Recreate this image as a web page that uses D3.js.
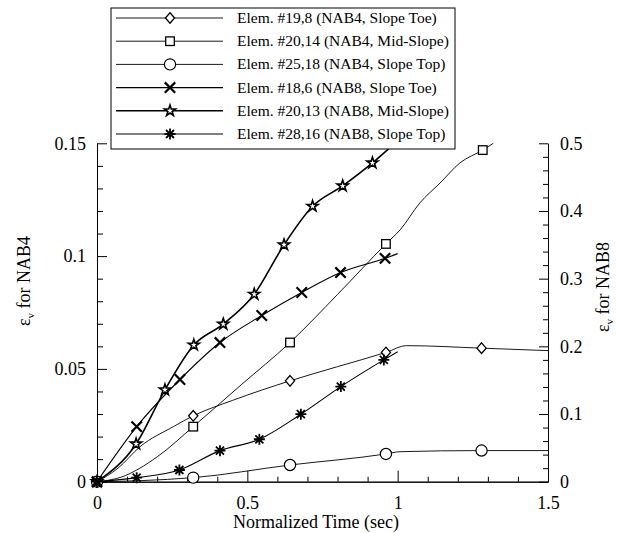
<!DOCTYPE html>
<html>
<head>
<meta charset="utf-8">
<script src="https://cdn.jsdelivr.net/npm/d3@7"></script>
<style>
body { margin: 0; background: #fff; }
text { font-family: "Liberation Serif", "DejaVu Serif", "Times New Roman", Times, serif !important; fill: #000; }
.axis path, .axis line { stroke: #000; stroke-width: 1; }
.axis text { font-size: 18px; }
</style>
</head>
<body>
<script>
var width = 617, height = 533;

// normalized time / strain, flags = where a marker sits
var toe4T = [0, 0.07, 0.143, 0.254, 0.32, 0.45, 0.642, 0.8, 0.961, 1.03, 1.279, 1.5];
var toe4V = [0, 0.006, 0.0155, 0.0244, 0.0292, 0.036, 0.0447, 0.051, 0.0573, 0.0603, 0.0592, 0.0581];
var toe4M = [1, 0, 0, 0, 1, 0, 1, 0, 1, 0, 1, 0];

var mid4T = [0, 0.08, 0.2, 0.32, 0.48, 0.642, 0.8, 0.961, 1.008, 1.074, 1.141, 1.207, 1.283, 1.318];
var mid4V = [0, 0.002, 0.011, 0.0244, 0.043, 0.0617, 0.083, 0.1054, 0.1116, 0.1236, 0.1324, 0.1413, 0.147, 0.150];
var mid4M = [1, 0, 0, 1, 0, 1, 0, 1, 0, 0, 0, 0, 1, 0];

var top4T = [0, 0.15, 0.32, 0.642, 0.961, 1.008, 1.279, 1.5];
var top4V = [0, 0.0005, 0.0018, 0.0074, 0.0123, 0.0133, 0.0138, 0.0138];
var top4M = [1, 0, 1, 1, 1, 0, 1, 0];

var toe8T = [0, 0.132, 0.276, 0.409, 0.548, 0.681, 0.81, 0.958, 1.0];
var toe8V = [0, 0.0814, 0.151, 0.2056, 0.2456, 0.2796, 0.309, 0.330, 0.337];
var toe8M = [1, 1, 1, 1, 1, 1, 1, 1, 0];

var mid8T = [0, 0.13, 0.226, 0.322, 0.42, 0.523, 0.622, 0.717, 0.817, 0.916, 0.99];
var mid8V = [0, 0.0558, 0.1357, 0.202, 0.2328, 0.277, 0.350, 0.407, 0.437, 0.471, 0.5];
var mid8M = [1, 1, 1, 1, 1, 1, 1, 1, 1, 1, 0];

var top8T = [0, 0.132, 0.274, 0.409, 0.540, 0.678, 0.811, 0.954, 1.0];
var top8V = [0, 0.006, 0.0173, 0.0459, 0.0627, 0.0997, 0.1405, 0.180, 0.192];
var top8M = [1, 1, 1, 1, 1, 1, 1, 1, 0];

var legendNames = ["Elem. #19,8 (NAB4, Slope Toe)", "Elem. #20,14 (NAB4, Mid-Slope)",
  "Elem. #25,18 (NAB4, Slope Top)", "Elem. #18,6 (NAB8, Slope Toe)",
  "Elem. #20,13 (NAB8, Mid-Slope)", "Elem. #28,16 (NAB8, Slope Top)"];

var xTicks = [0, 0.5, 1, 1.5];
var xMinor = [0.1, 0.2, 0.3, 0.4, 0.6, 0.7, 0.8, 0.9, 1.1, 1.2, 1.3, 1.4];
var leftTicks = [0, 0.05, 0.1, 0.15];
var leftMinor = [0.01, 0.02, 0.03, 0.04, 0.06, 0.07, 0.08, 0.09, 0.11, 0.12, 0.13, 0.14];
var rightTicks = [0, 0.1, 0.2, 0.3, 0.4, 0.5];
var rightMinor = [0.02, 0.04, 0.06, 0.08, 0.12, 0.14, 0.16, 0.18, 0.22, 0.24, 0.26, 0.28,
  0.32, 0.34, 0.36, 0.38, 0.42, 0.44, 0.46, 0.48];

var series = [
  {t: toe4T, v: toe4V, m: toe4M, side: "L", mark: "diamond", w: 0.9},
  {t: mid4T, v: mid4V, m: mid4M, side: "L", mark: "square", w: 0.9},
  {t: top4T, v: top4V, m: top4M, side: "L", mark: "circle", w: 0.9},
  {t: toe8T, v: toe8V, m: toe8M, side: "R", mark: "cross", w: 1.1},
  {t: mid8T, v: mid8V, m: mid8M, side: "R", mark: "star", w: 1.6},
  {t: top8T, v: top8V, m: top8M, side: "R", mark: "asterisk", w: 1.1}
];

var x = d3.scaleLinear().domain([0, 1.5]).range([97, 548]);
var yL = d3.scaleLinear().domain([0, 0.15]).range([481.7, 143.3]);
var yR = d3.scaleLinear().domain([0, 0.5]).range([481.7, 143.3]);

var svg = d3.select("body").append("svg").attr("width", width).attr("height", height);

// axes, ticks pointing inward
svg.append("g").attr("class", "axis")
    .attr("transform", "translate(0,481.7)")
    .call(d3.axisBottom(x).tickValues(xTicks).tickFormat(String).tickSizeInner(-11).tickSizeOuter(0).tickPadding(14.5));
svg.append("g").attr("class", "axis")
    .attr("transform", "translate(0,481.7)")
    .call(d3.axisBottom(x).tickValues(xMinor).tickFormat("").tickSizeInner(-5).tickSizeOuter(0));

svg.append("g").attr("class", "axis")
    .attr("transform", "translate(97,0)")
    .call(d3.axisLeft(yL).tickValues(leftTicks).tickFormat(String).tickSizeInner(-10).tickSizeOuter(0).tickPadding(11));
svg.append("g").attr("class", "axis")
    .attr("transform", "translate(97,0)")
    .call(d3.axisLeft(yL).tickValues(leftMinor).tickFormat("").tickSizeInner(-6).tickSizeOuter(0));

svg.append("g").attr("class", "axis")
    .attr("transform", "translate(548,0)")
    .call(d3.axisRight(yR).tickValues(rightTicks).tickFormat(String).tickSizeInner(-9).tickSizeOuter(0).tickPadding(12));
svg.append("g").attr("class", "axis")
    .attr("transform", "translate(548,0)")
    .call(d3.axisRight(yR).tickValues(rightMinor).tickFormat("").tickSizeInner(-5).tickSizeOuter(0));

function drawMarker(sel, type) {
  if (type == "diamond") {
    sel.append("path").attr("d", "M0,-5.3L4.6,0L0,5.3L-4.6,0Z")
      .attr("fill", "#fff").attr("stroke", "#000").attr("stroke-width", 1.3);
  } else if (type == "square") {
    sel.append("rect").attr("x", -4.3).attr("y", -4.3).attr("width", 8.6).attr("height", 8.6)
      .attr("fill", "#fff").attr("stroke", "#000").attr("stroke-width", 1.3);
  } else if (type == "circle") {
    sel.append("circle").attr("r", 5.6)
      .attr("fill", "#fff").attr("stroke", "#000").attr("stroke-width", 1.2);
  } else if (type == "cross") {
    sel.append("path").attr("d", "M-5.2,-5.2L5.2,5.2M-5.2,5.2L5.2,-5.2")
      .attr("stroke", "#000").attr("stroke-width", 2.2);
  } else if (type == "star") {
    sel.append("path").attr("d", d3.symbol().type(d3.symbolStar).size(38)())
      .attr("fill", "#fff").attr("stroke", "#000").attr("stroke-width", 1.6);
  } else if (type == "asterisk") {
    sel.append("path").attr("d", "M-5.5,0L5.5,0M0,-5.5L0,5.5M-4,-4L4,4M-4,4L4,-4")
      .attr("stroke", "#000").attr("stroke-width", 1.8);
    sel.append("circle").attr("r", 2.3).attr("fill", "#000");
  }
}

series.forEach(function(s) {
  var y = s.side == "L" ? yL : yR;
  var pts = s.t.map(function(t, i) { return {t: t, v: s.v[i], m: s.m[i]}; });
  var line = d3.line()
    .x(function(d) { return x(d.t); })
    .y(function(d) { return y(d.v); })
    .curve(d3.curveMonotoneX);
  svg.append("path").datum(pts)
    .attr("d", line)
    .attr("fill", "none").attr("stroke", "#000").attr("stroke-width", s.w);
  pts.filter(function(d) { return d.m; }).forEach(function(d) {
    var g = svg.append("g").attr("transform", "translate(" + x(d.t) + "," + y(d.v) + ")");
    drawMarker(g, s.mark);
  });
});

// legend
var lg = svg.append("g");
lg.append("rect").attr("x", 111).attr("y", 8).attr("width", 344).attr("height", 141)
  .attr("fill", "#fff").attr("stroke", "#000").attr("stroke-width", 1);
series.forEach(function(s, i) {
  var ry = 18 + i * 23.2;
  lg.append("line").attr("x1", 116).attr("x2", 223).attr("y1", ry).attr("y2", ry)
    .attr("stroke", "#000").attr("stroke-width", s.w);
  drawMarker(lg.append("g").attr("transform", "translate(170," + ry + ")"), s.mark);
  lg.append("text").attr("x", 237).attr("y", ry + 5)
    .style("font-size", "15.5px").text(legendNames[i]);
});

// titles
svg.append("text").attr("x", 316).attr("y", 528).attr("text-anchor", "middle")
  .style("font-size", "18px").text("Normalized Time (sec)");

function yTitle(tx, ty, label) {
  var t = svg.append("text").attr("text-anchor", "middle")
    .attr("transform", "translate(" + tx + "," + ty + ") rotate(-90)")
    .style("font-size", "18px");
  t.append("tspan").text("ε");
  t.append("tspan").attr("dy", 4).style("font-size", "11px").text("v");
  t.append("tspan").attr("dy", -4).text(" for " + label);
}
yTitle(30, 281, "NAB4");
yTitle(609, 287, "NAB8");
</script>
</body>
</html>
